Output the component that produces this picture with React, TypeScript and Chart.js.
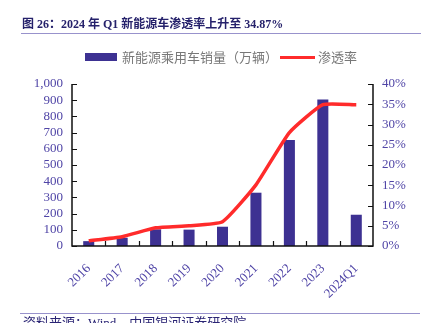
import React, { useEffect, useRef } from "react";
import { Chart, registerables } from "chart.js";

Chart.register(...registerables);

const categories = ["2016", "2017", "2018", "2019", "2020", "2021", "2022", "2023", "2024Q1"];
const salesValues = [30, 51, 103, 101, 119, 329, 654, 905, 193];
const penetrationValues = [1.3, 2.3, 4.5, 5.0, 6.0, 15.1, 28.0, 34.9, 34.87];
const leftTickMax = 1000;
const leftTickStep = 100;
const rightTickMax = 40;
const rightTickStep = 5;

const titleText = "图 26：2024 年 Q1 新能源车渗透率上升至 34.87%";
const barLabel = "新能源乘用车销量（万辆）";
const lineLabel = "渗透率";
const sourceText = "资料来源：Wind，中国银河证券研究院";

const BAR_COLOR = "#3d3192";
const LINE_COLOR = "#ff2b2b";
const TICK_COLOR = "#4f44a6";
const SERIF = "'Liberation Serif', 'Times New Roman', 'Noto Sans CJK SC', serif";

const axesPlugin = {
  id: "axesPlugin",
  afterDatasetsDraw(chart: any) {
    const { ctx, chartArea } = chart;
    const { left, right, top, bottom } = chartArea;
    const yL = chart.scales.y;
    const yR = chart.scales.y1;
    const x = chart.scales.x;
    ctx.save();
    ctx.strokeStyle = "#111";
    ctx.lineWidth = 1.5;
    ctx.beginPath();
    ctx.moveTo(left, top);
    ctx.lineTo(left, bottom);
    ctx.lineTo(right, bottom);
    ctx.lineTo(right, top);
    ctx.stroke();
    ctx.lineWidth = 1.2;
    ctx.beginPath();
    yL.ticks.forEach((t: any) => {
      const py = Math.round(yL.getPixelForValue(t.value)) + 0.5;
      ctx.moveTo(left, py);
      ctx.lineTo(left + 5, py);
    });
    yR.ticks.forEach((t: any) => {
      const py = Math.round(yR.getPixelForValue(t.value)) + 0.5;
      ctx.moveTo(right - 5, py);
      ctx.lineTo(right, py);
    });
    for (let i = 1; i < categories.length; i++) {
      const px = Math.round((x.getPixelForValue(i - 1) + x.getPixelForValue(i)) / 2) + 0.5;
      ctx.moveTo(px, bottom);
      ctx.lineTo(px, bottom - 5);
    }
    ctx.stroke();
    ctx.restore();
  },
};

export default function App() {
  const canvasRef = useRef<HTMLCanvasElement | null>(null);

  useEffect(() => {
    document.body.style.margin = "0";
    const canvas = canvasRef.current;
    if (!canvas) return;
    const chart = new Chart(canvas, {
      type: "bar",
      data: {
        labels: categories,
        datasets: [
          {
            type: "line",
            label: lineLabel,
            data: penetrationValues,
            yAxisID: "y1",
            borderColor: LINE_COLOR,
            backgroundColor: LINE_COLOR,
            borderWidth: 3.5,
            pointRadius: 0,
            tension: 0.15,
            order: 0,
          } as any,
          {
            type: "bar",
            label: barLabel,
            data: salesValues,
            yAxisID: "y",
            backgroundColor: BAR_COLOR,
            barPercentage: 0.33,
            categoryPercentage: 1,
            order: 1,
          } as any,
        ],
      },
      options: {
        responsive: false,
        animation: false,
        devicePixelRatio: 1,
        layout: { padding: { top: 84, left: 0, right: 0, bottom: 0 } },
        plugins: {
          legend: { display: false },
          tooltip: { enabled: false },
          title: { display: false },
        },
        scales: {
          x: {
            type: "category",
            position: "bottom",
            grid: { display: false, drawTicks: false },
            border: { display: false },
            ticks: {
              color: TICK_COLOR,
              font: { family: SERIF, size: 13 },
              minRotation: 45,
              maxRotation: 45,
              padding: 15,
              autoSkip: false,
            },
            afterFit: (s: any) => {
              s.height = 77;
            },
          },
          y: {
            type: "linear",
            position: "left",
            min: 0,
            max: leftTickMax,
            grid: { display: false, drawTicks: false },
            border: { display: false },
            ticks: {
              stepSize: leftTickStep,
              autoSkip: false,
              color: TICK_COLOR,
              font: { family: SERIF, size: 13 },
              padding: 9,
              callback: (v: any) => Number(v).toLocaleString("en-US"),
            },
            afterFit: (s: any) => {
              s.width = 72;
            },
          },
          y1: {
            type: "linear",
            position: "right",
            min: 0,
            max: rightTickMax,
            grid: { display: false, drawTicks: false },
            border: { display: false },
            ticks: {
              stepSize: rightTickStep,
              autoSkip: false,
              color: TICK_COLOR,
              font: { family: SERIF, size: 13 },
              padding: 9,
              callback: (v: any) => `${v}%`,
            },
            afterFit: (s: any) => {
              s.width = 58;
            },
          },
        },
      },
      plugins: [axesPlugin],
    });
    return () => chart.destroy();
  }, []);

  return (
    <div style={{ position: "fixed", left: 0, top: 0, width: 431, height: 323, background: "#fff", overflow: "hidden" }}>
      <canvas ref={canvasRef} width={431} height={323} style={{ position: "absolute", left: 0, top: 0 }} />
      <div
        style={{
          position: "absolute",
          left: 22,
          top: 15,
          fontFamily: SERIF,
          fontWeight: "bold",
          fontSize: 12,
          color: "#25216b",
          whiteSpace: "nowrap",
          lineHeight: "18px",
        }}
      >
        {titleText}
      </div>
      <div style={{ position: "absolute", left: 21, top: 33, width: 400, height: 1, background: "#9892cc" }} />
      <div style={{ position: "absolute", left: 85, top: 53, width: 32, height: 8, background: BAR_COLOR }} />
      <div
        style={{
          position: "absolute",
          left: 122,
          top: 48,
          fontFamily: "'Noto Sans CJK SC', sans-serif",
          fontSize: 13,
          color: "#777",
          whiteSpace: "nowrap",
          lineHeight: "18px",
        }}
      >
        {barLabel}
      </div>
      <div style={{ position: "absolute", left: 280, top: 56, width: 35, height: 3, background: LINE_COLOR }} />
      <div
        style={{
          position: "absolute",
          left: 318,
          top: 48,
          fontFamily: "'Noto Sans CJK SC', sans-serif",
          fontSize: 13,
          color: "#777",
          whiteSpace: "nowrap",
          lineHeight: "18px",
        }}
      >
        {lineLabel}
      </div>
      <div style={{ position: "absolute", left: 20, top: 313, width: 400, height: 1, background: "#9892cc" }} />
      <div
        style={{
          position: "absolute",
          left: 23,
          top: 315,
          fontFamily: SERIF,
          fontSize: 13,
          color: "#2b2575",
          whiteSpace: "nowrap",
          lineHeight: "16px",
        }}
      >
        {sourceText}
      </div>
    </div>
  );
}
